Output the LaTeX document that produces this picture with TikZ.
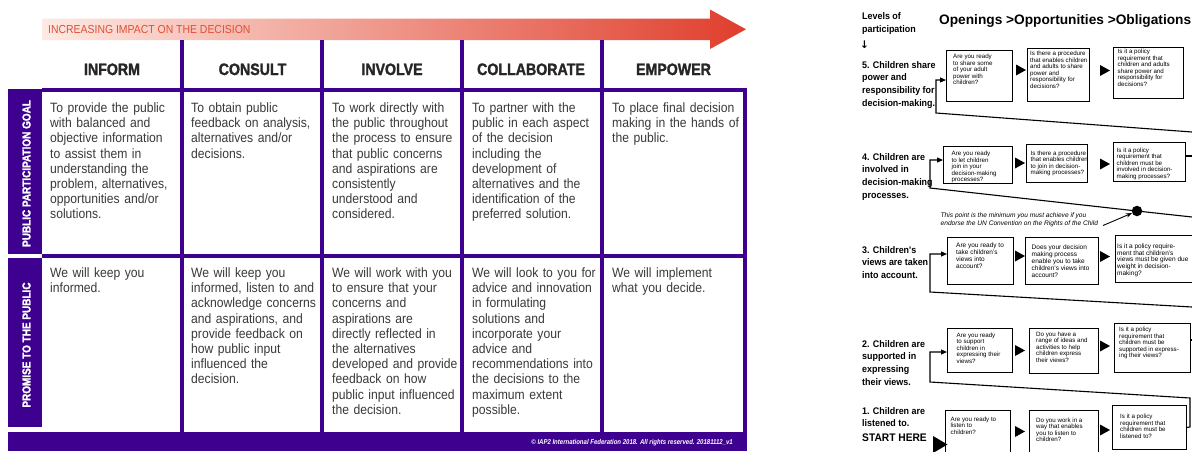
\documentclass[tikz,border=0pt]{standalone}
\usepackage{fontspec}
\setmainfont{Liberation Sans}
\newfontfamily\narrowfont{Liberation Sans}[FakeStretch=0.9]
\newfontfamily\headfont{Liberation Sans}[FakeStretch=0.86,BoldFeatures={FakeBold=1.6}]
\newfontfamily\levelfont{Liberation Sans}[FakeStretch=0.93]
\newfontfamily\symbolfont{DejaVu Sans}
\usetikzlibrary{arrows.meta}

\definecolor{iapPurple}{RGB}{62,0,142}
\definecolor{bodyGray}{RGB}{58,58,58}
\definecolor{impactRed}{RGB}{224,78,55}
\definecolor{arrowLight}{RGB}{253,234,227}
\definecolor{arrowMid}{RGB}{245,178,158}
\definecolor{arrowDark}{RGB}{224,62,44}

% filled flow triangle: left edge x, centre y
\newcommand\flowtri[2]{\fill (#1,#2-5.5) -- ++(10,5.5) -- ++(-10,5.5) -- cycle;}

\begin{document}
\begin{tikzpicture}[x=1pt,y=-1pt,
  grid/.style={draw=iapPurple,line width=3.6pt},
  colhead/.style={font=\headfont\bfseries\fontsize{16.5}{18}\selectfont,text=black!85,inner sep=0pt},
  sidelabel/.style={font=\headfont\bfseries\fontsize{11.6}{12}\selectfont,text=white,inner sep=0pt},
  cell/.style={font=\narrowfont\fontsize{13.5}{15.2}\selectfont,text=bodyGray,
    text width=134pt,align=left,inner sep=0pt,anchor=north west},
  level/.style={font=\levelfont\bfseries\fontsize{9.6}{12.7}\selectfont,align=left,inner sep=0pt,anchor=north west},
  qbox/.style={draw=black,line width=0.9pt,anchor=north west,inner sep=0pt},
  qtxt/.style={font=\fontsize{6.2}{6.5}\selectfont,align=left,inner sep=0pt,anchor=north west},
  qtxtb/.style={font=\fontsize{6.5}{6.9}\selectfont,align=left,inner sep=0pt,anchor=north west},
  loopline/.style={draw=black,line width=1.1pt},
  entry/.style={loopline,-{Triangle[length=6pt,width=5pt]}},
]
\clip (0,0) rectangle (1192,451);
\fill[white] (0,0) rectangle (1192,451);

%% ---------- spectrum of public participation ----------
\shade[left color=arrowLight,middle color=arrowMid,right color=arrowDark]
  (42,18.5) -- (710,18.5) -- (710,9.5) -- (746,29.3) -- (710,49) -- (710,40) -- (42,40) -- cycle;
\node[anchor=base west,inner sep=0pt,text=impactRed,
      font=\narrowfont\fontsize{11.6}{12}\selectfont] (impact) at (48,33.3)
  {INCREASING IMPACT ON THE DECISION};

% side label bars and footer band
\fill[iapPurple] (8,89) rectangle (42,254);
\fill[iapPurple] (8,258.3) rectangle (42,427);
\fill[iapPurple] (8,431.5) rectangle (747,451);

% grid
\draw[grid] (42,90) -- (746.8,90);
\draw[grid] (42,256) -- (746.8,256);
\foreach \gx in {182,322,462,602} \draw[grid] (\gx,40) -- (\gx,432);
\draw[grid] (745,88.2) -- (745,432);

% column headings
\node[colhead,anchor=base] (hInform)  at (112,75)   {INFORM};
\node[colhead,anchor=base] (hConsult) at (252.5,75) {CONSULT};
\node[colhead,anchor=base] (hInvolve) at (392,75)   {INVOLVE};
\node[colhead,anchor=base] (hCollab)  at (531,75)   {COLLABORATE};
\node[colhead,anchor=base] (hEmpower) at (673.5,75) {EMPOWER};

% row labels
\node[sidelabel,rotate=90] (goalLabel)    at (26.5,173.5) {PUBLIC PARTICIPATION GOAL};
\node[sidelabel,rotate=90] (promiseLabel) at (26.5,345)   {PROMISE TO THE PUBLIC};

% goal row
\node[cell] (gInform) at (50,102.6) {To provide the public\\with balanced and\\objective information\\to assist them in\\understanding the\\problem, alternatives,\\opportunities and/or\\solutions.};
\node[cell] (gConsult) at (191,102.6) {To obtain public\\feedback on analysis,\\alternatives and/or\\decisions.};
\node[cell] (gInvolve) at (332,102.6) {To work directly with\\the public throughout\\the process to ensure\\that public concerns\\and aspirations are\\consistently\\understood and\\considered.};
\node[cell] (gCollab) at (472,102.6) {To partner with the\\public in each aspect\\of the decision\\including the\\development of\\alternatives and the\\identification of the\\preferred solution.};
\node[cell] (gEmpower) at (612,102.6) {To place final decision\\making in the hands of\\the public.};

% promise row
\node[cell] (pInform) at (50,267.6) {We will keep you\\informed.};
\node[cell] (pConsult) at (191,267.6) {We will keep you\\informed, listen to and\\acknowledge concerns\\and aspirations, and\\provide feedback on\\how public input\\influenced the\\decision.};
\node[cell] (pInvolve) at (332,267.6) {We will work with you\\to ensure that your\\concerns and\\aspirations are\\directly reflected in\\the alternatives\\developed and provide\\feedback on how\\public input influenced\\the decision.};
\node[cell] (pCollab) at (472,267.6) {We will look to you for\\advice and innovation\\in formulating\\solutions and\\incorporate your\\advice and\\recommendations into\\the decisions to the\\maximum extent\\possible.};
\node[cell] (pEmpower) at (612,267.6) {We will implement\\what you decide.};

\node[anchor=base east,inner sep=0pt,text=white,
      font=\headfont\itshape\fontsize{7}{8}\selectfont] (copyright) at (733,444)
  {\bfseries © IAP2 International Federation 2018. All rights reserved. 20181112\_v1};

%% ---------- pathways to participation ----------
\node[level] (levels) at (862,12.3) {Levels of\\participation};
\node[anchor=base west,inner sep=0pt,font=\symbolfont\bfseries\fontsize{10.5}{11}\selectfont] (levelsArrow) at (860,48) {↓};
\node[anchor=base west,inner sep=0pt,font=\bfseries\fontsize{13.7}{15}\selectfont] (stages) at (939,24)
  {Openings >Opportunities >Obligations};

% level descriptions
\node[level] (lvl5) at (862,61)  {5. Children share\\power and\\responsibility for\\decision-making.};
\node[level] (lvl4) at (862,153) {4. Children are\\involved in\\decision-making\\processes.};
\node[level] (lvl3) at (862,246) {3. Children's\\views are taken\\into account.};
\node[level] (lvl2) at (862,340) {2. Children are\\supported in\\expressing\\their views.};
\node[level] (lvl1) at (862,407) {1. Children are\\listened to.};
\node[anchor=base west,inner sep=0pt,font=\levelfont\bfseries\fontsize{11}{12}\selectfont] (start) at (862,441) {START HERE};

% question boxes, level 5
\node[qbox,minimum width=66pt,minimum height=51pt] (r5b1) at (946,50) {};
\node[qbox,minimum width=62pt,minimum height=53pt] (r5b2) at (1027,48) {};
\node[qbox,minimum width=70pt,minimum height=51pt] (r5b3) at (1113,47) {};
\node[qtxt] (r5t1) at (953,54.3) {Are you ready\\to share some\\of your adult\\power with\\children?};
\node[qtxt] (r5t2) at (1030,51) {Is there a procedure\\that enables children\\and adults to share\\power and\\responsibility for\\decisions?};
\node[qtxt] (r5t3) at (1117.5,49.3) {Is it a policy\\requirement that\\children and adults\\share power and\\responsibility for\\decisions?};
\flowtri{1016}{70}
\flowtri{1100}{70.5}

% level 4
\node[qbox,minimum width=69pt,minimum height=37pt] (r4b1) at (943,146) {};
\node[qbox,minimum width=61pt,minimum height=38pt] (r4b2) at (1026,144) {};
\node[qbox,minimum width=72pt,minimum height=39pt] (r4b3) at (1113,142) {};
\node[qtxt] (r4t1) at (951.5,151.3) {Are you ready\\to let children\\join in your\\decision-making\\processes?};
\node[qtxt] (r4t2) at (1030.5,150.8) {Is there a procedure\\that enables children\\to join in decision-\\making processes?};
\node[qtxt] (r4t3) at (1116.5,147.5) {Is it a policy\\requirement that\\children must be\\involved in decision-\\making processes?};
\flowtri{1015}{163}
\flowtri{1100}{164}

% level 3
\node[qbox,minimum width=66pt,minimum height=47pt] (r3b1) at (947,237) {};
\node[qbox,minimum width=73pt,minimum height=47pt] (r3b2) at (1025,237) {};
\node[qbox,minimum width=85pt,minimum height=47pt] (r3b3) at (1115,235) {};
\node[qtxtb] (r3t1) at (956,242.5) {Are you ready to\\take children's\\views into\\account?};
\node[qtxtb] (r3t2) at (1031.5,244.8) {Does your decision\\making process\\enable you to take\\children's views into\\account?};
\node[qtxtb] (r3t3) at (1117,243.2) {Is it a policy require-\\ment that children's\\views must be given due\\weight in decision-\\making?};
\flowtri{1015}{256}
\flowtri{1100}{256.5}

% level 2
\node[qbox,minimum width=65pt,minimum height=44pt] (r2b1) at (947,328) {};
\node[qbox,minimum width=69pt,minimum height=45pt] (r2b2) at (1029,328) {};
\node[qbox,minimum width=76pt,minimum height=49pt] (r2b3) at (1114,323) {};
\node[qtxt] (r2t1) at (956.5,332.5) {Are you ready\\to support\\children in\\expressing their\\views?};
\node[qtxt] (r2t2) at (1036,331.5) {Do you have a\\range of ideas and\\activities to help\\children express\\their views?};
\node[qtxt] (r2t3) at (1119,327) {Is it a policy\\requirement that\\children must be\\supported in express-\\ing their views?};
\flowtri{1015}{350.5}
\flowtri{1100}{346}

% level 1
\node[qbox,minimum width=65pt,minimum height=50pt] (r1b1) at (945,410) {};
\node[qbox,minimum width=69pt,minimum height=50pt] (r1b2) at (1029,410) {};
\node[qbox,minimum width=74pt,minimum height=44pt] (r1b3) at (1112,405) {};
\node[qtxt] (r1t1) at (950.5,416.5) {Are you ready to\\listen to\\children?};
\node[qtxt] (r1t2) at (1036,417.5) {Do you work in a\\way that enables\\you to listen to\\children?};
\node[qtxt] (r1t3) at (1120,414.2) {Is it a policy\\requirement that\\children must be\\listened to?};
\flowtri{1015}{431.5}
\flowtri{1100}{430}
\fill (933,436) -- (947.5,444.5) -- (933,453) -- cycle;

% minimum point on the pathway
\node[circle,fill=black,minimum size=10.5pt,inner sep=0pt] (minPoint) at (1137,211) {};
\node[anchor=north west,inner sep=0pt,align=left,font=\itshape\fontsize{6.6}{7.6}\selectfont] (note) at (940.5,213)
  {This point is the minimum you must achieve if you\\endorse the UN Convention on the Rights of the Child};
\coordinate (noteEnd) at (1103,225.5);
\draw[line width=0.9pt,-{Stealth[length=6pt,width=4.5pt]}] (noteEnd) -- (minPoint);

% return paths from each level to the next
\coordinate (in5) at (1192,132);
\coordinate (in4) at (1192,217);
\coordinate (in3) at (1192,307);
\coordinate (out4) at (1192,156);
\coordinate (out2) at (1192,340);
\draw[entry] (in5) -- (936,113) -- (936,80) -- (r5b1.west |- 0,80);
\draw[entry] (in4) -- (minPoint.center) -- (930,188) -- (930,160) -- (r4b1.west |- 0,160);
\draw[entry] (in3) -- (930,292) -- (930,254) -- (r3b1.west |- 0,254);
\draw[entry] (r1b3.east) -- (1190,427) -- (1190,398) -- (930,382) -- (930,352) -- (r2b1.west |- 0,352);
\draw[loopline] (r4b3.east |- out4) -- (out4);
\draw[loopline] (r2b3.east |- out2) -- (out2);
\end{tikzpicture}
\end{document}
